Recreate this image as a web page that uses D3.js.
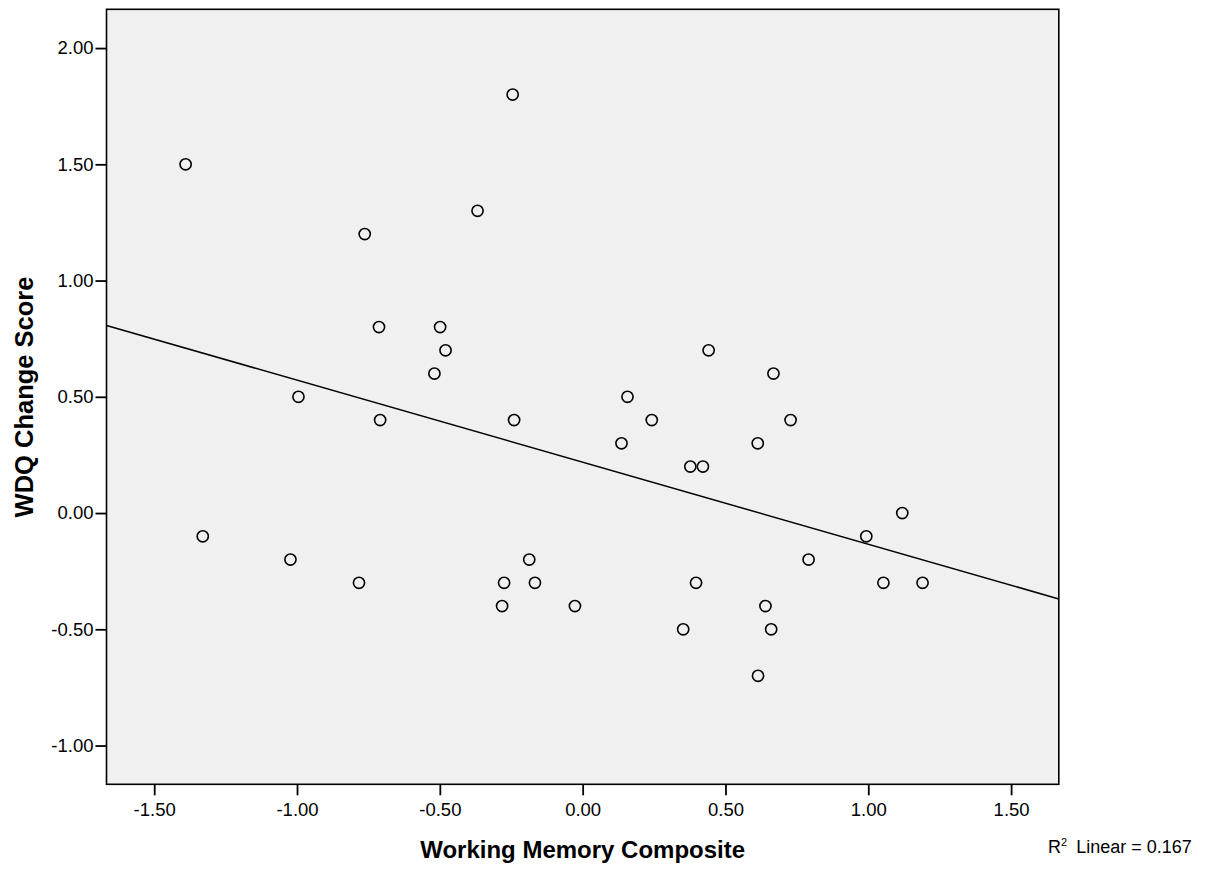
<!DOCTYPE html>
<html>
<head>
<meta charset="utf-8">
<script src="https://cdn.jsdelivr.net/npm/d3@7"></script>
<style>
  body { margin: 0; background: #fff; }
  #chart { width: 1205px; height: 870px; }
</style>
</head>
<body>
<div id="chart"></div>
<script>
// working memory composite (x) and WDQ change score (y)
const wmComposite = [
  -1.390, -1.330, -1.023, -0.995, -0.783, -0.763, -0.713, -0.709, -0.519, -0.499,
  -0.480, -0.368, -0.282, -0.275, -0.245, -0.240, -0.187, -0.167, -0.027, 0.136,
  0.157, 0.242, 0.352, 0.377, 0.397, 0.421, 0.441, 0.613, 0.614, 0.640,
  0.660, 0.668, 0.728, 0.791, 0.993, 1.053, 1.119, 1.190
];
const wdqChange = [
  1.50, -0.10, -0.20, 0.50, -0.30, 1.20, 0.80, 0.40, 0.60, 0.80,
  0.70, 1.30, -0.40, -0.30, 1.80, 0.40, -0.20, -0.30, -0.40, 0.30,
  0.50, 0.40, -0.50, 0.20, -0.30, 0.20, 0.70, 0.30, -0.70, -0.40,
  -0.50, 0.60, 0.40, -0.20, -0.10, -0.30, 0.00, -0.30
];
const xTicks = [-1.5, -1.0, -0.5, 0.0, 0.5, 1.0, 1.5];
const yTicks = [-1.0, -0.5, 0.0, 0.5, 1.0, 1.5, 2.0];
const xDomain = [-1.667, 1.667];
const yDomain = [-1.1667, 2.1667];
const r2Linear = "0.167";

const width = 1205, height = 870;
const plot = {left: 106.5, right: 1058.8, top: 9.3, bottom: 784.3};

const svg = d3.select("#chart").append("svg")
    .attr("width", width)
    .attr("height", height)
    .style("font-family", "Arial, 'Liberation Sans', sans-serif");

const x = d3.scaleLinear().domain(xDomain).range([plot.left, plot.right]);
const y = d3.scaleLinear().domain(yDomain).range([plot.bottom, plot.top]);

// plot background
svg.append("rect")
    .attr("x", plot.left)
    .attr("y", plot.top)
    .attr("width", plot.right - plot.left)
    .attr("height", plot.bottom - plot.top)
    .attr("fill", "#f0f0f0");

// least squares fit
const points = wmComposite.map((v, i) => ({x: v, y: wdqChange[i]}));
const mx = d3.mean(points, d => d.x), my = d3.mean(points, d => d.y);
const sxy = d3.sum(points, d => (d.x - mx) * (d.y - my));
const sxx = d3.sum(points, d => (d.x - mx) * (d.x - mx));
const slope = sxy / sxx;
const intercept = my - slope * mx;

const line = d3.line().x(d => x(d)).y(d => y(intercept + slope * d));
svg.append("path")
    .attr("d", line(xDomain))
    .attr("fill", "none")
    .attr("stroke", "#000")
    .attr("stroke-width", 1.5);

svg.selectAll("circle.pt")
    .data(points)
    .enter()
    .append("circle")
    .attr("class", "pt")
    .attr("cx", d => x(d.x))
    .attr("cy", d => y(d.y))
    .attr("r", 5.6)
    .attr("fill", "none")
    .attr("stroke", "#000")
    .attr("stroke-width", 1.6);

// frame
svg.append("rect")
    .attr("x", plot.left)
    .attr("y", plot.top)
    .attr("width", plot.right - plot.left)
    .attr("height", plot.bottom - plot.top)
    .attr("fill", "none")
    .attr("stroke", "#000")
    .attr("stroke-width", 1.6);

const fmt = d => d.toFixed(2);

const xAxis = svg.append("g")
    .attr("transform", `translate(0,${plot.bottom})`)
    .call(d3.axisBottom(x).tickValues(xTicks).tickFormat(fmt).tickSize(11).tickPadding(8));
const yAxis = svg.append("g")
    .attr("transform", `translate(${plot.left},0)`)
    .call(d3.axisLeft(y).tickValues(yTicks).tickFormat(fmt).tickSize(11).tickPadding(2));

[xAxis, yAxis].forEach(a => {
    a.select(".domain").remove();
    a.selectAll("line").attr("stroke", "#000").attr("stroke-width", 1.8);
    a.selectAll("text")
        .attr("fill", "#000")
        .style("font-size", "18.5px")
        .style("font-family", "Arial, 'Liberation Sans', sans-serif");
});

svg.append("text")
    .attr("x", (plot.left + plot.right) / 2)
    .attr("y", 858)
    .attr("text-anchor", "middle")
    .style("font-size", "24px")
    .style("font-weight", "bold")
    .text("Working Memory Composite");

svg.append("text")
    .attr("transform", `translate(33,${397}) rotate(-90)`)
    .attr("text-anchor", "middle")
    .style("font-size", "25.5px")
    .style("font-weight", "bold")
    .text("WDQ Change Score");

const r2 = svg.append("text")
    .attr("x", 1048)
    .attr("y", 853)
    .style("font-size", "18px");
r2.append("tspan").text("R");
r2.append("tspan").attr("dy", -7).style("font-size", "11px").text("2");
r2.append("tspan").attr("dy", 7).attr("dx", 9).text("Linear = " + r2Linear);
</script>
</body>
</html>
